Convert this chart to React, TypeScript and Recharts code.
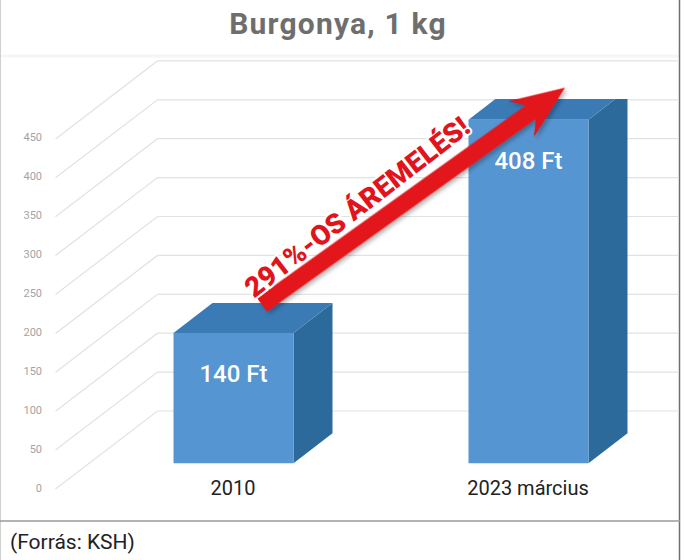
import { BarChart, Bar, XAxis, YAxis, CartesianGrid, LabelList, ReferenceLine } from 'recharts';

const categories = ['2010', '2023 március'];
const prices = [140, 408];
const priceLabels = ['140 Ft', '408 Ft'];
const gridTicks = [0, 50, 100, 150, 200, 250, 300, 350, 400, 450];
const chartTitle = 'Burgonya, 1 kg';
const increaseText = '291%-OS ÁREMELÉS!';
const sourceText = '(Forrás: KSH)';

const data = categories.map((category, i) => ({ category, price: prices[i], label: priceLabels[i] }));

const FONT = 'Roboto, "Noto Sans", sans-serif';
const DEPTH_X = 39;
const DEPTH_Y = 30;
const FLOOR = 19;

// front face + top + side, so the bars look like the Excel 3D columns
const Box3D = (props: any) => {
  const { x, y, width, height } = props;
  const bottom = y + height + FLOOR;
  const right = x + width;
  return (
    <g>
      <polygon
        points={`${right},${y} ${right + DEPTH_X},${y - DEPTH_Y} ${right + DEPTH_X},${bottom - DEPTH_Y} ${right},${bottom}`}
        fill="#2c6a9c"
      />
      <polygon
        points={`${x},${y} ${x + DEPTH_X},${y - DEPTH_Y} ${right + DEPTH_X},${y - DEPTH_Y} ${right},${y}`}
        fill="#3a7ab5"
      />
      <rect x={x} y={y} width={width} height={bottom - y} fill="#5595d1" />
    </g>
  );
};

const GridLine3D = (props: any) => {
  const { x1, y1, x2, index } = props;
  const backY = y1 - 77;
  return (
    <path
      key={`g-${index}`}
      d={`M${x1 - 30},${y1 + 1} L${x1 + 72},${backY} L${x2 + 3},${backY}`}
      fill="none"
      stroke="#e2e2e2"
      strokeWidth={1.2}
    />
  );
};

const ValueTick = (props: any) => {
  const { y, payload } = props;
  return (
    <text x={42} y={y} textAnchor="end" dominantBaseline="central" fill="#a3a3a3" fontSize={11} fontFamily={FONT}>
      {payload.value}
    </text>
  );
};

const CategoryTick = (props: any) => {
  const { x, y, payload } = props;
  return (
    <text x={x} y={y + 7} textAnchor="middle" fill="#222" fontSize={20} fontFamily={FONT}>
      {payload.value}
    </text>
  );
};

const PriceLabel = (props: any) => {
  const { x, y, width, value } = props;
  return (
    <text
      x={x + width / 2}
      y={y + 41}
      textAnchor="middle"
      dominantBaseline="central"
      fill="#fff"
      fontSize={24}
      fontWeight={500}
      fontFamily={FONT}
    >
      {value}
    </text>
  );
};

const RiseArrow = (props: any) => {
  const { x1, y1, x2, y2 } = props;
  const tx = x1 + 29;
  const ty = y1 - 28;
  const hx = x2 + 37;
  const hy = y2 - 32;
  const dx = hx - tx;
  const dy = hy - ty;
  const L = Math.sqrt(dx * dx + dy * dy);
  const angle = (Math.atan2(dy, dx) * 180) / Math.PI;
  return (
    <g transform={`translate(${tx},${ty}) rotate(${angle})`}>
      <defs>
        <filter id="arrowShadow" x="-10%" y="-50%" width="120%" height="200%">
          <feDropShadow dx="1" dy="3" stdDeviation="2" floodColor="#000" floodOpacity="0.3" />
        </filter>
      </defs>
      <polygon
        points={`0,-8.5 ${L - 42},-8.5 ${L - 54},-22 ${L},0 ${L - 54},22 ${L - 42},8.5 0,8.5`}
        fill="#e3131b"
        filter="url(#arrowShadow)"
      />
      <text
        x={L * 0.36}
        y={-24}
        textAnchor="middle"
        dominantBaseline="central"
        fill="#e3131b"
        stroke="#fff"
        strokeWidth={4}
        paintOrder="stroke"
        fontSize={28}
        fontWeight={900}
        fontFamily={FONT}
        transform={`rotate(-2, ${L * 0.36}, -24)`}
      >
        {increaseText}
      </text>
    </g>
  );
};

export default function App() {
  return (
    <div style={{ position: 'absolute', left: 0, top: 0, width: 685, height: 560, background: '#fff' }}>
      <svg width={685} height={560} style={{ position: 'absolute', left: 0, top: 0 }}>
        <text
          x={338}
          y={34}
          textAnchor="middle"
          fill="#6e6e6e"
          fontSize={30}
          fontWeight={700}
          letterSpacing={1.2}
          fontFamily={FONT}
        >
          {chartTitle}
        </text>
        <line x1={0} y1={56} x2={679} y2={56} stroke="#f5f5f5" strokeWidth={3} />
        <line x1={0.5} y1={0} x2={0.5} y2={560} stroke="#d0d0d0" strokeWidth={1} />
        <line x1={679.5} y1={0} x2={679.5} y2={560} stroke="#6f6f6f" strokeWidth={1.5} />
        <line x1={0} y1={521} x2={680} y2={521} stroke="#9a9a9a" strokeWidth={1.5} />
        <text x={10} y={549} fill="#222" fontSize={21} fontFamily={FONT}>
          {sourceText}
        </text>
      </svg>
      <div style={{ position: 'absolute', left: 0, top: 0 }}>
        <BarChart width={685} height={521} data={data} margin={{ top: 99, right: 9.5, bottom: 3, left: 25.5 }}>
          <CartesianGrid yAxisId="grid" vertical={false} horizontal={GridLine3D} syncWithTicks />
          <XAxis
            dataKey="category"
            axisLine={false}
            tickLine={false}
            tickSize={0}
            tickMargin={0}
            height={30}
            tick={CategoryTick}
          />
          <YAxis
            yAxisId="grid"
            type="number"
            domain={[0, 500]}
            allowDataOverflow
            ticks={gridTicks}
            width={60}
            axisLine={false}
            tickLine={false}
            tick={ValueTick}
          />
          <YAxis yAxisId="bar" hide domain={[-55, 434]} allowDataOverflow />
          <Bar yAxisId="bar" dataKey="price" barSize={120} shape={Box3D} isAnimationActive={false}>
            <LabelList dataKey="label" content={PriceLabel} />
          </Bar>
          <ReferenceLine
            yAxisId="bar"
            segment={[
              { x: categories[0], y: prices[0] },
              { x: categories[1], y: prices[1] },
            ]}
            ifOverflow="visible"
            shape={RiseArrow}
          />
        </BarChart>
      </div>
    </div>
  );
}
